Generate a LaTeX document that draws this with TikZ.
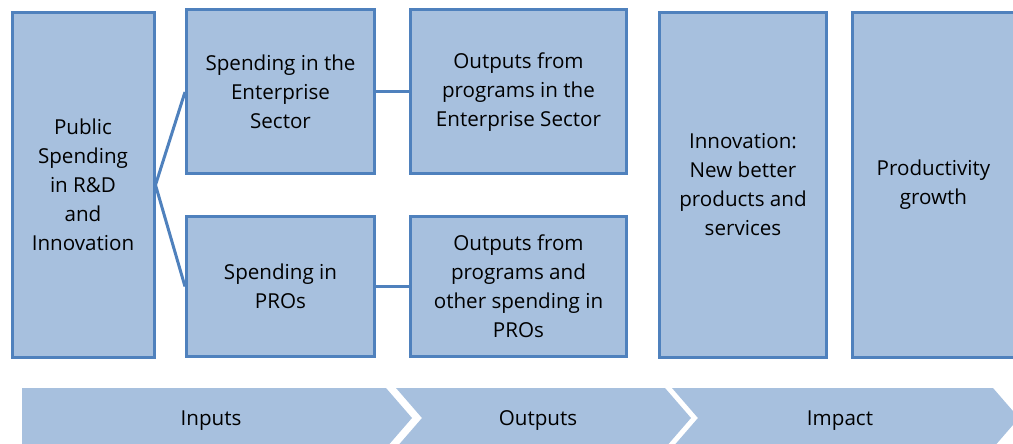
\documentclass[tikz,border=0pt]{standalone}
\usepackage{fontspec}
\setmainfont{Open Sans}
\usepackage{xcolor}
\definecolor{boxfill}{RGB}{167,192,222}
\definecolor{boxline}{RGB}{79,129,189}

\begin{document}
\begin{tikzpicture}[x=0.5pt,y=-0.5pt,
    stage/.style={draw=boxline, fill=boxfill, line width=1.5pt, align=center, inner sep=0pt,
        font=\fontsize{10.3}{14.5}\selectfont},
    link/.style={draw=boxline, line width=1.5pt},
    band/.style={fill=boxfill},
    bandlabel/.style={font=\fontsize{10.3}{14.5}\selectfont}]
    \useasboundingbox (0,0) rectangle (1013,444);
    \clip (0,0) rectangle (1013,444);

    \node[stage, minimum width=71pt, minimum height=172pt] (pub) at (83,185)
        {Public\\Spending\\in R\&D\\and\\Innovation};
    \node[stage, minimum width=94pt, minimum height=82pt] (ent) at (280.5,92)
        {Spending in the\\Enterprise\\Sector};
    \node[stage, minimum width=94pt, minimum height=70pt] (pro) at (280.5,286.5)
        {Spending in\\PROs};
    \node[stage, minimum width=108pt, minimum height=82pt] (oent) at (518.5,92)
        {Outputs from\\programs in the\\Enterprise Sector};
    \node[stage, minimum width=108pt, minimum height=70pt] (opro) at (518.5,286.5)
        {Outputs from\\programs and\\other spending in\\PROs};
    \node[stage, minimum width=83.5pt, minimum height=172.5pt] (inn) at (743,185)
        {Innovation:\\New better\\products and\\services};
    \node[stage, minimum width=81.5pt, minimum height=172.5pt] (prod) at (933.5,185)
        {Productivity\\growth};

    \draw[link] (pub.east) -- (ent.west);
    \draw[link] (pub.east) -- (pro.west);
    \draw[link] (ent) -- (oent);
    \draw[link] (pro) -- (opro);

    \fill[band] (22,388) -- (386,388) -- (412,418) -- (386,448) -- (22,448) -- cycle;
    \fill[band] (396,388) -- (665,388) -- (691,418) -- (665,448) -- (396,448) -- (422,418) -- cycle;
    \fill[band] (672,388) -- (993,388) -- (1019,418) -- (993,448) -- (672,448) -- (698,418) -- cycle;
    \node[bandlabel] (inputs) at (211,421) {Inputs};
    \node[bandlabel] (outputs) at (538,421) {Outputs};
    \node[bandlabel] (impact) at (840,421) {Impact};
\end{tikzpicture}
\end{document}
